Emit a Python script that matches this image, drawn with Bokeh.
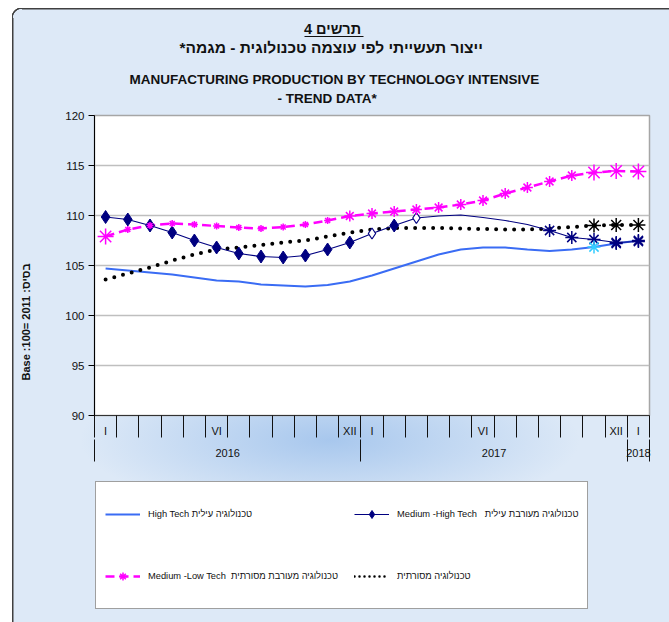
import math
from bokeh.plotting import figure
from bokeh.layouts import column
from bokeh.models import (FixedTicker, LinearAxis, Range1d, Legend, LegendItem, Title)
from bokeh.embed import file_html
from bokeh.resources import INLINE

# ---------------- data ----------------
month_labels = ["I", "", "", "", "", "VI", "", "", "", "", "", "XII",
                "I", "", "", "", "", "VI", "", "", "", "", "", "XII", "I"]
years = ["2016", "2017", "2018"]
year_start = [0, 12, 24]
year_end = [12, 24, 25]
y_ticks = [90, 95, 100, 105, 110, 115, 120]

high_tech = [104.7, 104.5, 104.3, 104.1, 103.8, 103.5, 103.4, 103.1, 103.0, 102.9,
             103.05, 103.4, 104.0, 104.7, 105.4, 106.1, 106.6, 106.8, 106.8, 106.6,
             106.45, 106.6, 106.85, 107.2, 107.5]
med_high = [109.85, 109.6, 109.0, 108.3, 107.5, 106.8, 106.2, 105.9, 105.8, 106.0,
            106.6, 107.3, 108.2, 109.0, 109.75, 109.95, 110.05, 109.8, 109.5, 109.1,
            108.5, 107.8, 107.6, 107.3, 107.4]
med_low = [107.9, 108.6, 109.0, 109.2, 109.1, 108.95, 108.8, 108.7, 108.85, 109.1,
           109.5, 109.95, 110.2, 110.4, 110.6, 110.8, 111.1, 111.5, 112.2, 112.8,
           113.4, 114.0, 114.3, 114.45, 114.4]
traditional = [103.6, 104.2, 104.8, 105.5, 106.1, 106.6, 106.8, 107.05, 107.3, 107.5,
               107.9, 108.3, 108.6, 108.75, 108.75, 108.75, 108.7, 108.65, 108.6, 108.6,
               108.7, 108.85, 109.0, 109.05, 109.05]

series_names = ["High Tech טכנולוגיה עילית",
                "Medium -High Tech   טכנולוגיה מעורבת עילית",
                "Medium -Low Tech  טכנולוגיה מעורבת מסורתית",
                "טכנולוגיה מסורתית"]

# marker groups (indices of months)
mh_filled_idx = [0, 1, 2, 3, 4, 5, 6, 7, 8, 9, 10, 11, 13]
mh_hollow_idx = [12, 14]
mh_star_idx = [20, 21, 22, 23, 24]
ml_small_idx = [1, 2, 3, 4, 5, 6, 7, 8, 9, 10]
ml_mid_idx = [11, 12, 13, 14, 15, 16, 17, 18, 19, 20, 21]
ml_big_idx = [0, 22, 23, 24]
tr_star_idx = [22, 23, 24]
ht_star_idx = [22, 23, 24]
ht_star_colors = ["#33ccff", "#000080", "#000080"]

FONT = "Liberation Sans"
TXT = "#111111"
n_months = len(month_labels)
x = [i + 0.5 for i in range(n_months)]

# styles
HT = dict(line_color="#3a6cf4", line_width=2)
ML = dict(line_color="#ff00ff", line_width=2.5, line_dash="9 5")
TR = dict(line_color="black", line_width=4, line_dash="0 9", line_cap="round")
MH = dict(line_color="#000080", line_width=1.2)
MH_DIAMOND = dict(marker="diamond", size=13, fill_color="#000080", line_color="#000080")
ML_STAR = dict(marker="asterisk", size=7, line_color="#ff00ff", line_width=1.5)


def pick(vals, idx):
    return [vals[i] for i in idx]


# ---------------- page background (rounded light-blue panel) ----------------
bg_layers = ", ".join([
    "radial-gradient(circle at 10px 10px, rgba(0,0,0,0) 8.8px, #404040 9.4px, "
    "#404040 10.4px, #ffffff 11px) 12px 8px / 10px 10px no-repeat",
    "linear-gradient(#404040, #404040) 12px 18px / 1.5px 700px no-repeat",
    "linear-gradient(#404040, #404040) 22px 8px / 700px 1.5px no-repeat",
    "linear-gradient(#ffffff, #ffffff) 0px 0px / 12px 100% no-repeat",
    "linear-gradient(#ffffff, #ffffff) 0px 0px / 100% 8px no-repeat",
    "radial-gradient(ellipse 250px 75px at 330px 440px, rgba(150,188,234,0.75), "
    "rgba(150,188,234,0)) 0px 0px / 100% 100% no-repeat",
    "#dde9f7",
])

p = figure(frame_width=555, frame_height=300, x_range=Range1d(0, n_months),
           y_range=Range1d(y_ticks[0], y_ticks[-1]), x_axis_type=None,
           output_backend="svg", toolbar_location=None,
           min_border_left=94, min_border_right=20, min_border_top=115,
           min_border_bottom=60)
p.border_fill_alpha = 0
p.background_fill_color = "white"
p.outline_line_color = "#a6a6a6"
p.outline_line_width = 1.5
p.ygrid.ticker = FixedTicker(ticks=y_ticks)
p.ygrid.grid_line_color = "#bfbfbf"
p.ygrid.grid_line_width = 1.5


def spacer(extent, tick, line_color=None, bounds="auto"):
    """An axis used only as empty space (or as a short rule) in a side panel."""
    return LinearAxis(ticker=FixedTicker(ticks=[tick]), major_label_overrides={tick: ""},
                      major_tick_out=extent, major_tick_in=0, minor_tick_out=0,
                      minor_tick_in=0, major_label_standoff=0,
                      major_label_text_font_size="1px", axis_line_color=line_color,
                      axis_line_width=1.2, bounds=bounds,
                      major_tick_line_color=None, minor_tick_line_color=None)


# ---------- y axis ----------
p.yaxis.ticker = FixedTicker(ticks=y_ticks)
p.yaxis.minor_tick_line_color = None
p.yaxis.major_tick_out = 6
p.yaxis.major_tick_in = 0
p.yaxis.major_label_standoff = 4
p.yaxis.major_label_text_font = FONT
p.yaxis.major_label_text_font_size = "11.5px"
p.yaxis.major_label_text_color = TXT
p.yaxis.axis_line_color = "black"
p.yaxis.major_tick_line_color = "black"
p.add_layout(spacer(31, 105), "left")
p.add_layout(Title(text="Base  :100=  2011  :בסיס", align="left", offset=35,
                   vertical_align="bottom", standoff=0, text_font=FONT,
                   text_font_size="11px", text_font_style="bold", text_color=TXT), "left")

# ---------- x axes (months, years) ----------
ax1 = LinearAxis(ticker=FixedTicker(ticks=x, minor_ticks=list(range(n_months + 1))),
                 major_label_overrides={xi: lab for xi, lab in zip(x, month_labels)},
                 major_tick_out=0, major_tick_in=0, minor_tick_out=22, minor_tick_in=0,
                 major_label_standoff=-13, major_label_text_font=FONT,
                 major_label_text_font_size="11px", major_label_text_color=TXT,
                 axis_line_color="#333333", minor_tick_line_color="#111111")
year_centers = [(s + e) / 2 for s, e in zip(year_start, year_end)]
year_bounds = sorted(set(year_start + year_end))
ax2 = LinearAxis(ticker=FixedTicker(ticks=year_centers, minor_ticks=year_bounds),
                 major_label_overrides={c: y for c, y in zip(year_centers, years)},
                 major_tick_out=0, major_tick_in=0, minor_tick_out=22, minor_tick_in=0,
                 major_label_standoff=-13, major_label_text_font=FONT,
                 major_label_text_font_size="11px", major_label_text_color=TXT,
                 axis_line_color=None, minor_tick_line_color="#111111")
p.add_layout(ax1, "below")
p.add_layout(ax2, "below")

# ---------- series ----------
p.line(x, high_tech, **HT)
p.line(x, med_low, **ML)
p.line(x, traditional, **TR)
p.line(x, med_high, **MH)

p.scatter(pick(x, mh_filled_idx), pick(med_high, mh_filled_idx), **MH_DIAMOND)
p.scatter(pick(x, mh_hollow_idx), pick(med_high, mh_hollow_idx), marker="diamond",
          size=11, fill_color="white", line_color="#000080", line_width=1.2)
p.scatter(pick(x, mh_star_idx), pick(med_high, mh_star_idx), marker="asterisk",
          size=13, line_color="#000080", line_width=1.5)

p.scatter(pick(x, ml_small_idx), pick(med_low, ml_small_idx), **ML_STAR)
p.scatter(pick(x, ml_mid_idx), pick(med_low, ml_mid_idx), marker="asterisk",
          size=11, line_color="#ff00ff", line_width=1.5)
p.scatter(pick(x, ml_big_idx), pick(med_low, ml_big_idx), marker="asterisk",
          size=16, line_color="#ff00ff", line_width=1.5)

p.scatter(pick(x, tr_star_idx), pick(traditional, tr_star_idx), marker="asterisk",
          size=14, line_color="black", line_width=1.5)
p.scatter(pick(x, ht_star_idx), pick(high_tech, ht_star_idx), marker="asterisk",
          size=13, line_color=ht_star_colors, line_width=1.5)


# ---------- titles (stacked above the plot, nearest first) ----------
def title(text, left_px, size, standoff=0):
    return Title(text=text, align="left", offset=left_px - 94, vertical_align="bottom",
                 standoff=standoff, text_font=FONT, text_font_size=size,
                 text_font_style="bold", text_color=TXT)


px_per_month = 555 / n_months
p.add_layout(spacer(10, x[0]), "above")
p.add_layout(title("- TREND  DATA*", 277, "13.5px"), "above")
p.add_layout(title("MANUFACTURING  PRODUCTION  BY TECHNOLOGY  INTENSIVE", 129, "13.5px",
                   standoff=3), "above")
p.add_layout(spacer(13, x[0]), "above")
p.add_layout(title("ייצור תעשייתי לפי עוצמה טכנולוגית - מגמה*\u200f", 179, "15.5px"),
             "above")
p.add_layout(spacer(0, 11.0, line_color=TXT,
                    bounds=((304 - 94) / px_per_month, (363 - 94) / px_per_month)), "above")
p.add_layout(title("תרשים 4", 303.5, "14.5px"), "above")

# ---------- legend (own strip below the chart; samples use the same series,
# which lie outside this strip's 0..1 range and so only show in the legend) ----------
q = figure(width=669, height=147, x_range=Range1d(0, 1), y_range=Range1d(0, 1),
           x_axis_location=None, y_axis_location=None, output_backend="svg",
           toolbar_location=None, min_border=0)
q.grid.visible = False
q.border_fill_alpha = 0
q.background_fill_alpha = 0
q.outline_line_color = None
g_ht = q.line(x, high_tech, **HT)
g_mh = q.line(x, med_high, **MH)
g_mh_d = q.scatter(x, med_high, marker="diamond", size=8, fill_color="#000080",
                   line_color="#000080")
g_ml = q.line(x, med_low, **ML)
g_ml_s = q.scatter(x, med_low, **ML_STAR)
g_tr = q.line(x, traditional, line_color="black", line_width=2.5, line_dash="0 5",
              line_cap="round")

legend = Legend(items=[
    LegendItem(label=series_names[0], renderers=[g_ht]),
    LegendItem(label=series_names[1], renderers=[g_mh, g_mh_d]),
    LegendItem(label=series_names[2], renderers=[g_ml, g_ml_s]),
    LegendItem(label=series_names[3], renderers=[g_tr]),
], location=(1, 13), orientation="horizontal", ncols=2, padding=9, spacing=16,
    label_width=170, label_height=46, glyph_width=35, glyph_height=20,
    label_standoff=8, border_line_color="#404040", border_line_width=1,
    background_fill_color="white", background_fill_alpha=1,
    label_text_font=FONT, label_text_font_size="9.3px", label_text_color=TXT,
    margin=0)
q.add_layout(legend)

page = column(p, q, spacing=0, styles={"background": bg_layers})
open("out.html", "w").write(file_html(page, INLINE))
